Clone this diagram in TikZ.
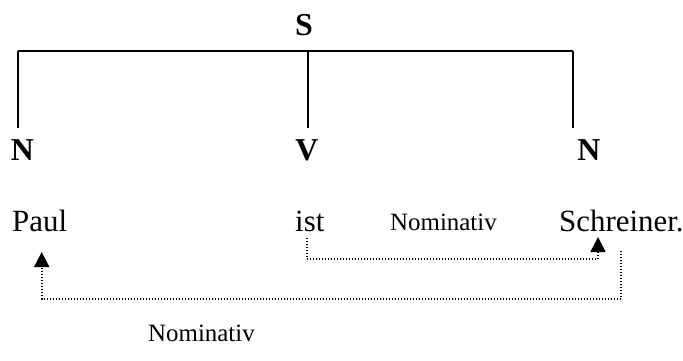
\documentclass[tikz,border=0pt]{standalone}
\usepackage{fontspec}
\setmainfont{Liberation Serif}
\usetikzlibrary{arrows.meta}

\begin{document}
\begin{tikzpicture}[x=1bp, y=-1bp,
  every node/.style={inner sep=0pt, font=\fontsize{31}{36}\selectfont},
  cat/.style={anchor=base, font=\fontsize{32}{36}\selectfont\bfseries},
  word/.style={anchor=base west},
  caselab/.style={anchor=base west, font=\fontsize{25}{30}\selectfont},
  tree/.style={line width=1.7bp},
  link/.style={line width=1.8bp, dash pattern=on 1.4bp off 1.6bp,
    -{Triangle[width=15bp,length=15bp]}}]
  \useasboundingbox (0,0) rectangle (683,360);
  % categories
  \node[cat] (s)  at (304,35)  {S};
  \node[cat] (nl) at (22.5,160) {N};
  \node[cat] (v)  at (307,160) {V};
  \node[cat] (nr) at (589,160) {N};
  % tree bar
  \coordinate (barl) at (17.7,50.7);
  \coordinate (barm) at (307.7,50.7);
  \coordinate (barr) at (572.7,50.7);
  \draw[tree] (barl) -- (barr);
  \draw[tree] (barl) -- ++(0,77.3);
  \draw[tree] (barm) -- ++(0,77.3);
  \draw[tree] (barr) -- ++(0,77.3);
  % sentence
  \node[word] (paul) at (12,231)  {Paul};
  \node[word] (ist)  at (295,231) {ist};
  \node[word] (schr) at (559,231) {Schreiner.};
  \node[caselab] (nom1) at (390,230) {Nominativ};
  \node[caselab] (nom2) at (148,341) {Nominativ};
  % case links
  \coordinate (istfoot) at (307,238);
  \coordinate (schrtip) at (598,237);
  \coordinate (schrfoot) at (621,251);
  \coordinate (paultip) at (41.7,252);
  \draw[link] (istfoot) -- (istfoot |- 0,259) -| (schrtip);
  \draw[link] (schrfoot) -- (schrfoot |- 0,299) -| (paultip);
\end{tikzpicture}
\end{document}
